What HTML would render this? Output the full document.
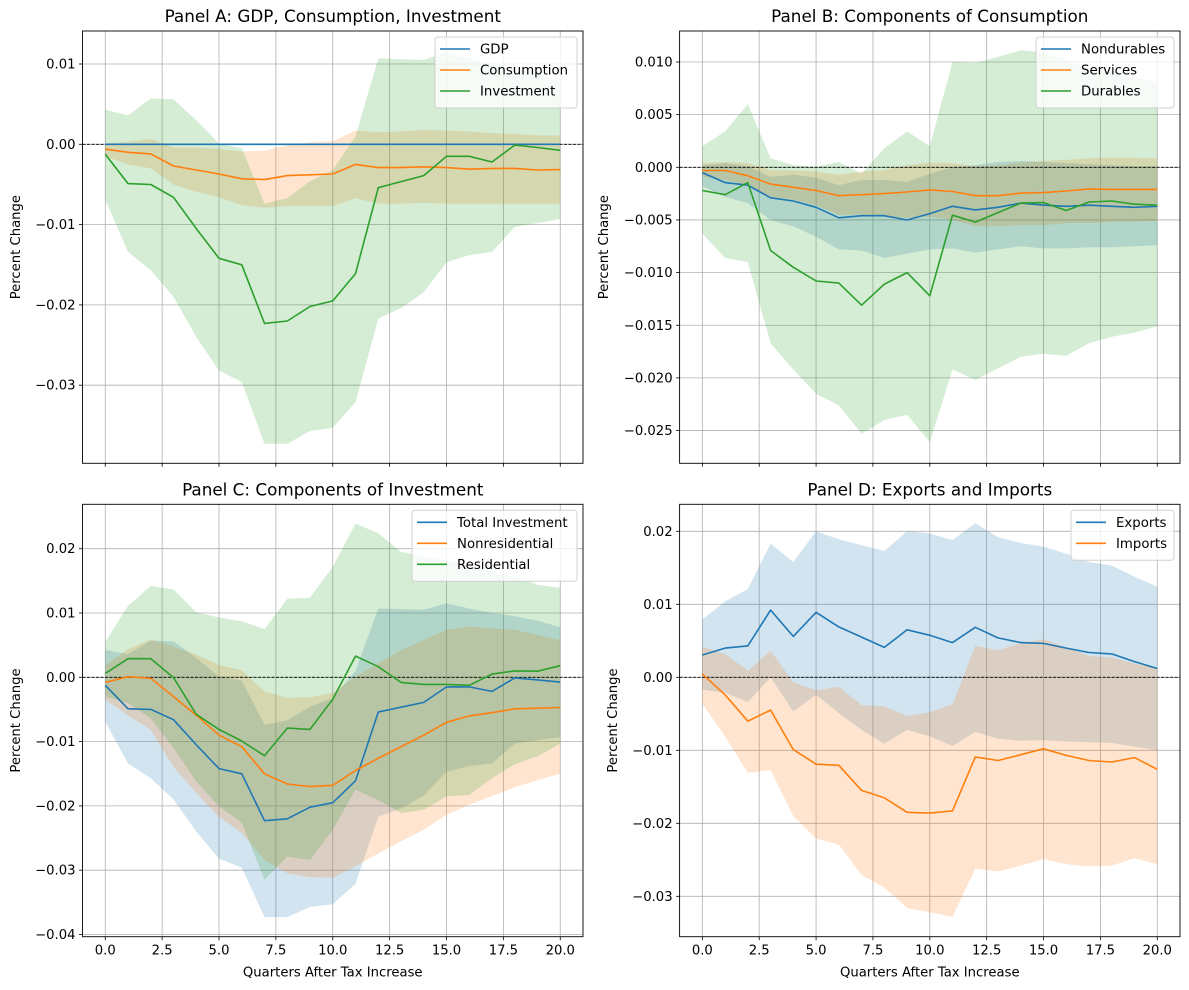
<!DOCTYPE html>
<html><head><meta charset="utf-8">
<style>
html,body{margin:0;padding:0;background:#fff;}
svg{display:block;font-family:"DejaVu Sans","Liberation Sans",sans-serif;}
</style></head>
<body>
<svg id="fig" width="1189" height="990" viewBox="0 0 1189 990" xmlns="http://www.w3.org/2000/svg"></svg>
<script>
const quarters = [0,1,2,3,4,5,6,7,8,9,10,11,12,13,14,15,16,17,18,19,20];
// Panel A
const gdpVals = [0,0,0,0,0,0,0,0,0,0,0,0,0,0,0,0,0,0,0,0,0];
const consVals = [-0.6,-1.0,-1.2,-2.7,-3.2,-3.7,-4.3,-4.4,-3.9,-3.8,-3.7,-2.5,-2.9,-2.9,-2.8,-2.9,-3.1,-3.0,-3.0,-3.2,-3.15];
const consUp = [0.1,0.3,0.7,-0.4,-0.4,-0.6,-0.9,-0.8,-0.1,0.25,0.4,1.7,1.5,1.6,1.8,1.7,1.6,1.4,1.3,1.1,1.1];
const consLo = [-1.5,-2.5,-3.0,-5.0,-5.9,-6.6,-7.6,-7.9,-7.7,-7.7,-7.7,-6.7,-7.4,-7.4,-7.3,-7.4,-7.4,-7.4,-7.4,-7.4,-7.4];
const invVals = [-1.25,-4.9,-5.0,-6.6,-10.5,-14.2,-15.0,-22.3,-22.0,-20.2,-19.5,-16.1,-5.4,-4.65,-3.9,-1.5,-1.5,-2.2,-0.1,-0.4,-0.75];
const invUp = [4.3,3.6,5.7,5.6,3.0,0.1,-0.5,-7.4,-6.7,-4.6,-3.2,1.0,10.7,10.6,10.5,11.5,10.7,10.0,9.5,8.8,7.8];
const invLo = [-6.9,-13.4,-15.7,-19.0,-24.0,-28.2,-29.6,-37.3,-37.3,-35.7,-35.3,-32.1,-21.7,-20.4,-18.4,-14.7,-13.8,-13.4,-10.3,-9.8,-9.3];
// Panel B
const ndVals = [-0.5,-1.45,-1.7,-2.9,-3.2,-3.8,-4.8,-4.6,-4.6,-5.0,-4.4,-3.7,-4.05,-3.8,-3.4,-3.6,-3.7,-3.6,-3.7,-3.8,-3.7];
const ndUp = [0.2,0.4,0.1,-0.9,-0.7,-1.0,-1.7,-1.2,-1.2,-1.4,-0.6,0.0,0.2,0.5,0.6,0.5,0.4,0.3,0.2,0.1,0.1];
const ndLo = [-1.8,-2.8,-3.4,-5.0,-5.6,-6.6,-7.8,-7.9,-8.6,-8.2,-7.8,-7.7,-8.1,-7.8,-7.5,-7.7,-7.7,-7.6,-7.6,-7.5,-7.4];
const svVals = [-0.3,-0.3,-0.8,-1.6,-1.9,-2.2,-2.7,-2.6,-2.5,-2.35,-2.15,-2.3,-2.7,-2.7,-2.45,-2.4,-2.25,-2.05,-2.1,-2.1,-2.1];
const svUp = [0.4,0.5,0.4,-0.25,-0.3,-0.4,-0.7,-0.4,-0.25,0.2,0.45,0.4,0.1,0.2,0.45,0.6,0.7,0.85,0.9,0.88,0.85];
const svLo = [-0.9,-1.2,-1.7,-2.8,-3.1,-3.6,-4.5,-4.5,-4.7,-4.8,-4.7,-5.0,-5.6,-5.6,-5.5,-5.5,-5.3,-5.3,-5.2,-5.15,-5.1];
const duVals = [-2.2,-2.6,-1.45,-7.9,-9.5,-10.8,-11.0,-13.1,-11.1,-10.0,-12.2,-4.55,-5.2,-4.3,-3.4,-3.35,-4.1,-3.3,-3.2,-3.5,-3.6];
const duUp = [2.0,3.4,6.0,0.85,0.2,0.06,0.5,-0.6,1.8,3.4,2.0,10.0,9.9,10.5,11.1,10.9,10.2,9.4,9.1,8.6,8.0];
const duLo = [-6.3,-8.6,-9.0,-16.7,-19.2,-21.5,-22.6,-25.3,-24.0,-23.5,-26.1,-19.2,-20.2,-19.1,-18.0,-17.7,-17.9,-16.7,-16.1,-15.7,-15.1];
// Panel C
const nrVals = [-0.8,0.1,-0.15,-3.0,-5.9,-9.0,-10.8,-15.0,-16.6,-17.0,-16.8,-14.5,-12.6,-10.8,-9.0,-7.0,-6.0,-5.5,-4.9,-4.8,-4.7];
const nrUp = [1.9,4.35,5.9,4.8,3.5,1.9,1.1,-2.2,-3.2,-3.1,-2.4,0.1,2.2,4.2,5.8,7.4,7.9,7.6,7.4,6.6,5.8];
const nrLo = [-3.5,-5.9,-8.2,-13.9,-18.0,-21.7,-24.2,-28.4,-30.5,-31.1,-31.2,-29.4,-27.4,-25.5,-23.7,-21.4,-19.8,-18.5,-17.1,-16.0,-15.0];
const reVals = [0.6,2.9,2.9,-0.05,-5.75,-8.1,-9.9,-12.2,-7.9,-8.1,-3.4,3.3,1.65,-0.8,-1.1,-1.1,-1.25,0.5,1.0,0.95,1.8];
const reUp = [5.5,11.1,14.2,13.7,10.1,9.3,8.7,7.5,12.2,12.4,17.2,23.9,22.4,19.5,18.8,18.2,17.5,16.4,15.6,14.4,13.9];
const reLo = [-3.0,-4.0,-6.4,-11.0,-16.2,-20.1,-22.6,-31.5,-27.9,-28.4,-23.7,-17.5,-19.1,-21.1,-20.6,-18.5,-18.3,-15.7,-13.5,-12.3,-10.3];
// Panel D
const exVals = [3.06,4.0,4.3,9.2,5.6,8.9,6.9,5.5,4.1,6.5,5.75,4.75,6.85,5.4,4.75,4.65,4.0,3.4,3.2,2.15,1.2];
const exUp = [7.9,10.4,12.1,18.3,15.8,20.0,18.9,18.1,17.3,20.0,19.7,18.8,21.1,19.2,18.4,17.9,16.9,15.8,15.3,13.8,12.4];
const exLo = [-1.7,-2.1,-3.4,0.0,-4.7,-2.4,-4.9,-7.2,-9.1,-7.2,-8.1,-9.4,-7.5,-8.4,-8.7,-8.6,-8.8,-8.9,-9.0,-9.5,-10.0];
const imVals = [0.45,-2.4,-6.0,-4.5,-9.9,-11.9,-12.05,-15.5,-16.5,-18.5,-18.6,-18.3,-10.9,-11.4,-10.6,-9.8,-10.7,-11.4,-11.6,-11.0,-12.6];
const imUp = [4.2,3.2,0.9,3.65,-0.7,-1.8,-1.3,-3.8,-4.0,-5.3,-4.8,-3.7,4.3,3.7,4.7,5.2,4.1,2.9,2.7,1.9,1.2];
const imLo = [-3.65,-8.1,-13.1,-12.7,-19.0,-22.1,-22.9,-27.1,-28.8,-31.6,-32.2,-32.8,-26.2,-26.6,-25.8,-24.9,-25.6,-25.9,-25.8,-24.8,-25.6];
const xTicks = [0,2.5,5,7.5,10,12.5,15,17.5,20];
const xTickLabels = ["0.0","2.5","5.0","7.5","10.0","12.5","15.0","17.5","20.0"];
const yTicksA = [10,0,-10,-20,-30];
const yLabelsA = ["0.01","0.00","\u22120.01","\u22120.02","\u22120.03"];
const yTicksB = [10,5,0,-5,-10,-15,-20,-25];
const yLabelsB = ["0.010","0.005","0.000","\u22120.005","\u22120.010","\u22120.015","\u22120.020","\u22120.025"];
const yTicksC = [20,10,0,-10,-20,-30,-40];
const yLabelsC = ["0.02","0.01","0.00","\u22120.01","\u22120.02","\u22120.03","\u22120.04"];
const yTicksD = [20,10,0,-10,-20,-30];
const yLabelsD = ["0.02","0.01","0.00","\u22120.01","\u22120.02","\u22120.03"];

const C1="#1f77b4",C2="#ff7f0e",C3="#2ca02c";
const NS="http://www.w3.org/2000/svg";
const fig=document.getElementById('fig');
function mk(tag,attrs,parent){const e=document.createElementNS(NS,tag);for(const k in attrs)e.setAttribute(k,attrs[k]);(parent||fig).appendChild(e);return e;}

function panel(cfg){
  const g=mk('g',{});
  
  
  const L=cfg.L,R=cfg.R,T=cfg.T,B=cfg.B;
  const x0=L+(R-L)/22;const xs=(R-L)/22;
  const X=q=>x0+q*xs;
  const Y=v=>cfg.zeroY - v*cfg.pxPer;
  xTicks.forEach(t=>{const l=mk('line',{x1:X(t),x2:X(t),y1:T,y2:B,stroke:'#b0b0b0','stroke-width':0.8},g);
    });
  cfg.yTicks.forEach((t,i)=>{const y=Y(t);
    const l=mk('line',{x1:L,x2:R,y1:y,y2:y,stroke:'#b0b0b0','stroke-width':0.8},g);
    
    mk('line',{x1:L-3.5,x2:L,y1:y,y2:y,stroke:'#000','stroke-width':0.8},g);
    const tx=mk('text',{x:L-7,y:y+4.5,'text-anchor':'end','font-size':13.2,fill:'#000'},g);tx.textContent=cfg.yLabels[i];
    });
  xTicks.forEach((t,i)=>{mk('line',{x1:X(t),x2:X(t),y1:B,y2:B+3.5,stroke:'#000','stroke-width':0.8},g);
    if(cfg.xLabels){const tx=mk('text',{x:X(t),y:B+18,'text-anchor':'middle','font-size':13.2,fill:'#000'},g);tx.textContent=xTickLabels[i];
    }});
  cfg.series.forEach(s=>{if(!s.up)return;
    let d='';quarters.forEach((q,i)=>{d+=(i?'L':'M')+X(q).toFixed(1)+','+Y(s.up[i]).toFixed(1);});
    for(let i=quarters.length-1;i>=0;i--)d+='L'+X(quarters[i]).toFixed(1)+','+Y(s.lo[i]).toFixed(1);
    const p=mk('path',{d:d+'Z',fill:s.c,'fill-opacity':0.2,stroke:'none'},g);
    });
  const z=mk('line',{x1:L,x2:R,y1:Y(0),y2:Y(0),stroke:'#000','stroke-width':0.8,'stroke-dasharray':'3,1.5'},g);
  
  cfg.series.forEach(s=>{const pts=quarters.map((q,i)=>X(q).toFixed(1)+','+Y(s.v[i]).toFixed(1)).join(' ');
    const p=mk('polyline',{points:pts,fill:'none',stroke:s.c,'stroke-width':1.6,'stroke-linejoin':'round'},g);
    });
  mk('rect',{x:L,y:T,width:R-L,height:B-T,fill:'none',stroke:'#000','stroke-width':0.9},g);
  const ti=mk('text',{x:(L+R)/2,y:T-9,'text-anchor':'middle','font-size':16.8,fill:'#000'},g);ti.textContent=cfg.title;
  
  const yl=mk('text',{x:cfg.ylx,y:(T+B)/2,'text-anchor':'middle','font-size':13.2,fill:'#000',transform:`rotate(-90 ${cfg.ylx} ${(T+B)/2})`},g);yl.textContent='Percent Change';
  
  if(cfg.xLabels){const xl=mk('text',{x:(L+R)/2,y:B+40,'text-anchor':'middle','font-size':13.2,fill:'#000'},g);xl.textContent='Quarters After Tax Increase';
    }
  const lg=mk('g',{},g);
  const lw=cfg.legW,lh=8+cfg.series.length*21;const lx=R-6-lw,ly=T+6;
  mk('rect',{x:lx,y:ly,width:lw,height:lh,rx:3,fill:'#fff','fill-opacity':0.8,stroke:'#d0d0d0','stroke-width':1},lg);
  cfg.series.forEach((s,i)=>{const yy=ly+12+i*21;
    const e=mk('g',{},lg);
    mk('line',{x1:lx+5,x2:lx+35,y1:yy,y2:yy,stroke:s.c,'stroke-width':1.6},e);
    const t=mk('text',{x:lx+45,y:yy+4.5,'font-size':13.3,fill:'#000'},e);t.textContent=s.label;});
}

panel({name:'panel-a',title:'Panel A: GDP, Consumption, Investment',L:82.5,R:583,T:31,B:463.3,zeroY:144.3,pxPer:8.03,
  yTicks:yTicksA,yLabels:yLabelsA,xLabels:false,ylx:20,legW:142,
  series:[{id:'gdp',label:'GDP',v:gdpVals,c:C1},{id:'consumption',label:'Consumption',v:consVals,up:consUp,lo:consLo,c:C2},{id:'investment',label:'Investment',v:invVals,up:invUp,lo:invLo,c:C3}]});
panel({name:'panel-b',title:'Panel B: Components of Consumption',L:679.6,R:1180,T:31,B:463.3,zeroY:167.3,pxPer:10.53,
  yTicks:yTicksB,yLabels:yLabelsB,xLabels:false,ylx:608,legW:138,
  series:[{id:'nondurables',label:'Nondurables',v:ndVals,up:ndUp,lo:ndLo,c:C1},{id:'services',label:'Services',v:svVals,up:svUp,lo:svLo,c:C2},{id:'durables',label:'Durables',v:duVals,up:duUp,lo:duLo,c:C3}]});
panel({name:'panel-c',title:'Panel C: Components of Investment',L:82.5,R:583,T:504.3,B:936.7,zeroY:677.3,pxPer:6.43,
  yTicks:yTicksC,yLabels:yLabelsC,xLabels:true,ylx:20,legW:165,
  series:[{id:'total-investment',label:'Total Investment',v:invVals,up:invUp,lo:invLo,c:C1},{id:'nonresidential',label:'Nonresidential',v:nrVals,up:nrUp,lo:nrLo,c:C2},{id:'residential',label:'Residential',v:reVals,up:reUp,lo:reLo,c:C3}]});
panel({name:'panel-d',title:'Panel D: Exports and Imports',L:679.6,R:1180,T:504.3,B:936.7,zeroY:677.3,pxPer:7.3,
  yTicks:yTicksD,yLabels:yLabelsD,xLabels:true,ylx:617,legW:103,
  series:[{id:'exports',label:'Exports',v:exVals,up:exUp,lo:exLo,c:C1},{id:'imports',label:'Imports',v:imVals,up:imUp,lo:imLo,c:C2}]});
</script>
</body></html>
